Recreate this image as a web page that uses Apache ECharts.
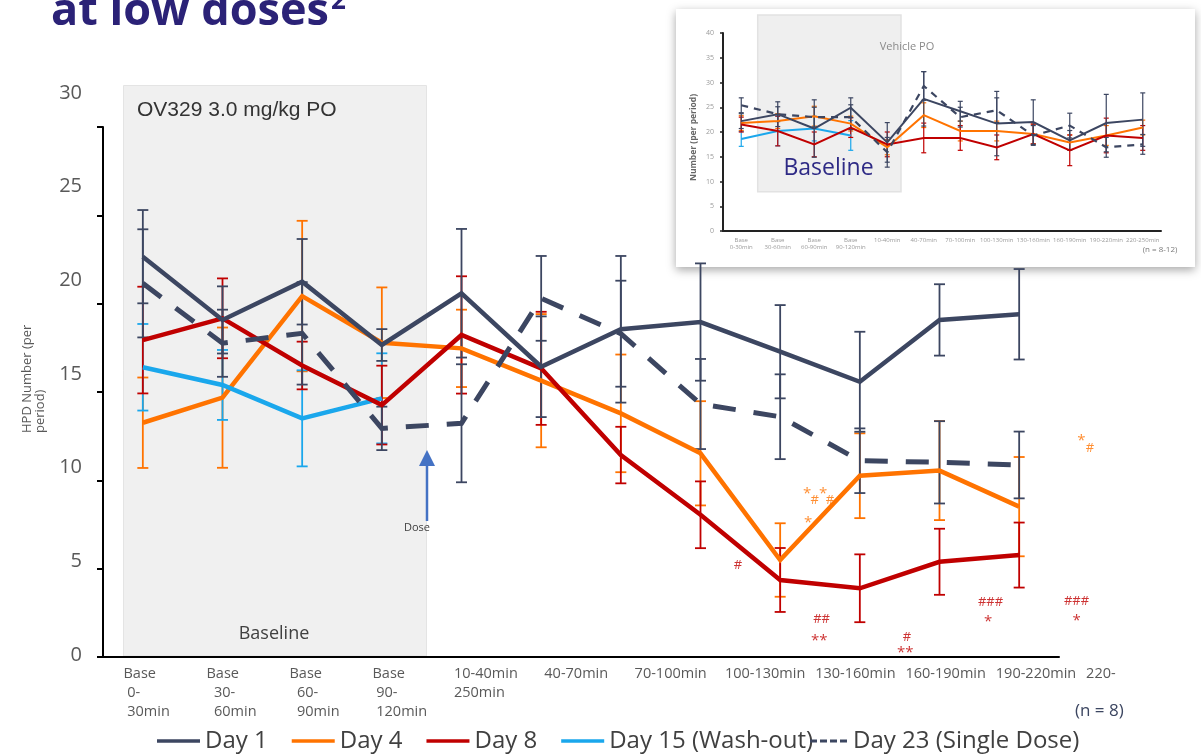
<!DOCTYPE html>
<html>
<head>
<meta charset="utf-8">
<script src="https://cdn.jsdelivr.net/npm/echarts@6/dist/echarts.min.js"></script>
<style>
  html, body { margin: 0; padding: 0; background: #fff; }
  #wrap { position: relative; width: 1201px; height: 755px; overflow: hidden; background: #fff; }
  #inset { position: absolute; left: 676px; top: 9px; width: 519px; height: 258px; background: #fff;
           box-shadow: 0 3px 9px rgba(0,0,0,0.35); z-index: 1; }
  #insetChart { width: 519px; height: 258px; filter: blur(0.7px); }
  #main { position: absolute; left: 0; top: 0; width: 1201px; height: 755px; z-index: 2; }
</style>
</head>
<body>
<div id="wrap">
  <div id="inset"><div id="insetChart"></div></div>
  <div id="main"></div>
</div>
<script>
// ---------- main chart data: OV329 3.0 mg/kg PO, HPD number per 30-min period (mean, SEM) ----------
const categories = ['Base 0-30min', 'Base 30-60min', 'Base 60-90min', 'Base 90-120min',
  '10-40min', '40-70min', '70-100min', '100-130min', '130-160min', '160-190min', '190-220min', '220-250min'];
const baseTickLabels = ['Base\n 0-\n 30min', 'Base\n  30-\n  60min', 'Base\n  60-\n  90min', 'Base\n 90-\n 120min'];
const timeTickLabels = ['10-40min\n250min', '40-70min', '70-100min', '100-130min', '130-160min', '160-190min', '190-220min', '220-'];
const yTicks = [0, 5, 10, 15, 20, 25, 30];

const day1     = [22.66, 19.08, 21.24, 17.66, 20.59, 16.43, 18.55, 18.96, 17.28, 15.58, 19.08, 19.40];
const day1Sem  = [2.64, 1.90, 2.42, 0.90, 3.64, 2.85, 4.15, 3.32, 2.64, 2.83, 2.02, 2.56];
const day4     = [13.26, 14.68, 20.43, 17.79, 17.47, 15.64, 13.79, 11.53, 5.49, 10.26, 10.55, 8.51];
const day4Sem  = [2.56, 3.97, 4.26, 3.13, 2.19, 3.77, 3.33, 2.95, 2.08, 2.40, 2.80, 2.81];
const day8     = [17.94, 19.17, 16.50, 14.26, 18.23, 16.34, 11.43, 8.05, 4.36, 3.89, 5.39, 5.77];
const day8Sem  = [3.02, 2.26, 1.35, 2.23, 3.32, 3.20, 1.60, 1.89, 1.81, 1.92, 1.87, 1.84];
const day15    = [16.40, 15.40, 13.51, 14.64, null, null, null, null, null, null, null, null];
const day15Sem = [2.45, 1.98, 2.72, 2.55, null, null, null, null, null, null, null, null];
const day23    = [21.15, 17.76, 18.32, 12.94, 13.23, 20.30, 18.30, 14.32, 13.60, 11.11, 11.02, 10.87];
const day23Sem = [3.06, 1.90, 2.90, 1.23, 3.34, 2.40, 3.00, 2.55, 2.40, 1.83, 2.33, 1.89];

// significance marks: [position along the category axis, value, mark, group]
const sigMarks = [
  [11.78, 12.45, '*', 'day4'],
  [11.89, 11.83, '#', 'day4'],
  [8.44, 9.49, '*  *', 'day4'],
  [8.53, 8.85, '#  #', 'day4'],
  [8.35, 7.85, '*', 'day4'],
  [7.47, 5.20, '#', 'day8'],
  [8.52, 2.15, '##', 'day8'],
  [8.49, 1.13, '**', 'day8'],
  [9.59, 1.13, '#', 'day8'],
  [9.57, 0.45, '**', 'day8'],
  [10.64, 3.11, '###', 'day8'],
  [10.61, 2.20, '*', 'day8'],
  [11.72, 3.17, '###', 'day8'],
  [11.72, 2.26, '*', 'day8']
];

// ---------- inset chart data: Vehicle PO ----------
const insetCategories = ['Base\n0-30min', 'Base\n30-60min', 'Base\n60-90min', 'Base\n90-120min',
  '10-40min', '40-70min', '70-100min', '100-130min', '130-160min', '160-190min', '190-220min', '220-250min'];
const insetTicks = [0, 5, 10, 15, 20, 25, 30, 35, 40];
const vDay1     = [22.2, 23.6, 20.7, 24.9, 17.9, 26.7, 24.2, 21.7, 22.0, 18.3, 21.8, 22.5];
const vDay1Sem  = [1.5, 2.5, 5.8, 2.0, 4.0, 5.5, 2.0, 6.5, 4.5, 2.0, 5.8, 5.4];
const vDay4     = [21.8, 22.2, 23.2, 21.7, 16.9, 23.4, 20.2, 20.2, 19.6, 17.9, 19.3, 20.9];
const vDay4Sem  = [1.5, 1.5, 2.0, 1.5, 1.5, 2.5, 2.0, 2.0, 2.0, 1.5, 2.0, 1.5];
const vDay8     = [21.5, 20.2, 17.5, 20.9, 17.5, 18.8, 18.8, 16.9, 19.6, 16.3, 19.3, 18.8];
const vDay8Sem  = [1.5, 3.0, 2.5, 2.0, 2.5, 3.0, 2.5, 2.5, 2.0, 3.1, 3.5, 2.5];
const vDay15    = [18.6, 20.2, 20.7, 19.3, null, null, null, null, null, null, null, null];
const vDay15Sem = [1.5, 3.0, 2.5, 3.0, null, null, null, null, null, null, null, null];
const vDay23    = [25.4, 23.6, 23.0, 23.0, 15.9, 29.3, 23.0, 24.4, 19.3, 21.3, 16.9, 17.5];
const vDay23Sem = [1.5, 1.5, 2.0, 2.5, 3.0, 2.9, 2.0, 2.5, 2.0, 2.5, 2.0, 2.0];

const FONT = "'Open Sans', 'Noto Sans', sans-serif";
const C = { day1: '#3c4661', day4: '#ff7300', day8: '#c00000', day15: '#1aa7ec', day23: '#3c4661' };

function errorBars(name, vals, sems, color, opts) {
  const data = [];
  vals.forEach((v, i) => { if (v != null && sems[i] != null) data.push([i, v - sems[i], v + sems[i]]); });
  return {
    type: 'custom', name, silent: true, z: opts.z || 1,
    xAxisIndex: opts.xAxisIndex || 0, yAxisIndex: opts.yAxisIndex || 0,
    encode: { x: 0, y: [1, 2] },
    data,
    renderItem(params, api) {
      const lo = api.coord([api.value(0), api.value(1)]);
      const hi = api.coord([api.value(0), api.value(2)]);
      const s = { stroke: color, lineWidth: opts.lw, fill: null };
      const h = opts.cap;
      return { type: 'group', children: [
        { type: 'line', shape: { x1: hi[0], y1: hi[1], x2: lo[0], y2: lo[1] }, style: s },
        { type: 'line', shape: { x1: hi[0] - h, y1: hi[1], x2: hi[0] + h, y2: hi[1] }, style: s },
        { type: 'line', shape: { x1: lo[0] - h, y1: lo[1], x2: lo[0] + h, y2: lo[1] }, style: s }
      ] };
    }
  };
}

function meanLine(name, vals, color, width, z, dash) {
  return {
    type: 'line', name, data: vals, z, symbol: 'none', showSymbol: false, connectNulls: false,
    lineStyle: { color, width, type: dash || 'solid', cap: 'butt', join: 'miter' },
    itemStyle: { color }
  };
}

// ---------- main chart ----------
const main = echarts.init(document.getElementById('main'), null, { renderer: 'canvas' });
const yMin = yTicks[0], yMax = yTicks[yTicks.length - 1], yStep = yTicks[1] - yTicks[0];
const catLabelStyle = { interval: 0, align: 'left', margin: 7, fontSize: 14.5, lineHeight: 19, color: '#595959', fontFamily: FONT };
const legendText = { fontSize: 24, color: '#404040', fontFamily: FONT };

const txt = (x, y, text, font, fill, align, valign, extra) => Object.assign({
  type: 'text', x, y,
  style: { x: 0, y: 0, text, font, fill, align, verticalAlign: valign, textAlign: align, textVerticalAlign: valign }
}, extra || {});

main.setOption({
  animation: false,
  backgroundColor: 'transparent',
  textStyle: { fontFamily: FONT },
  grid: [
    { left: 103, right: 142, top: 127, bottom: 98, outerBoundsMode: 'none' },
    { left: 103, width: 50, top: 93, bottom: 100, outerBoundsMode: 'none' },
    { left: 82, width: 332, top: 600, bottom: 98, outerBoundsMode: 'none' },
    { left: 408.85, width: 722.4, top: 600, bottom: 98, outerBoundsMode: 'none' }
  ],
  xAxis: [
    { type: 'category', gridIndex: 0, data: categories, z: 5,
      axisLine: { show: true, onZero: false, lineStyle: { color: '#000', width: 2 } },
      axisTick: { show: false }, axisLabel: { show: false }, splitLine: { show: false } },
    { type: 'value', gridIndex: 0, min: -0.5, max: categories.length - 0.5, show: false,
      axisLine: { onZero: false } },
    { type: 'value', gridIndex: 1, show: false, axisLine: { onZero: false } },
    { type: 'category', gridIndex: 2, data: baseTickLabels, axisLine: { show: false, onZero: false }, axisTick: { show: false },
      splitLine: { show: false }, axisLabel: catLabelStyle },
    { type: 'category', gridIndex: 3, data: timeTickLabels, axisLine: { show: false, onZero: false }, axisTick: { show: false },
      splitLine: { show: false }, axisLabel: catLabelStyle }
  ],
  yAxis: [
    { type: 'value', gridIndex: 0, min: yMin, max: yMax, interval: yStep, z: 5,
      axisLine: { show: true, onZero: false, lineStyle: { color: '#000', width: 2 } },
      axisTick: { show: true, inside: false, length: 6, lineStyle: { color: '#000', width: 2 } },
      axisLabel: { show: false }, splitLine: { show: false } },
    { type: 'value', gridIndex: 1, min: yMin, max: yMax, interval: yStep,
      axisLine: { show: false, onZero: false }, axisTick: { show: false }, splitLine: { show: false },
      axisLabel: { fontSize: 20, color: '#595959', margin: 21, fontFamily: FONT } },
    { type: 'value', gridIndex: 2, show: false, axisLine: { onZero: false } },
    { type: 'value', gridIndex: 3, show: false, axisLine: { onZero: false } }
  ],
  legend: [
    { data: ['Day 1', 'Day 4', 'Day 8', 'Day 15 (Wash-out)'], left: 157, top: 729, orient: 'horizontal', padding: 0,
      icon: 'rect', itemWidth: 43, itemHeight: 3.5, itemGap: 24,
      textStyle: legendText },
    { data: ['Day 23 (Single Dose)'], left: 810, top: 729, padding: 0,
      icon: 'path://M0,0h7v3h-7z M10,0h7v3h-7z M20,0h7v3h-7z M30,0h7v3h-7z',
      itemWidth: 39, itemHeight: 3, itemGap: 0,
      textStyle: legendText }
  ],
  graphic: [
    { type: 'rect', z: -1, shape: { x: 123.5, y: 85.5, width: 303, height: 570.5 },
      style: { fill: '#f0f0f0', stroke: '#e4e4e4', lineWidth: 1 } },
    txt(137, 110, 'OV329 3.0 mg/kg PO', "21px 'Liberation Sans', Arial, sans-serif", '#333333', 'left', 'middle'),
    txt(274, 634, 'Baseline', "18px " + FONT, '#404040', 'center', 'middle'),
    { type: 'line', shape: { x1: 427, y1: 521, x2: 427, y2: 462 }, style: { stroke: '#4472c4', lineWidth: 2.5 } },
    { type: 'polygon', shape: { points: [[419, 466], [435, 466], [427, 450]] }, style: { fill: '#4472c4' } },
    txt(417, 528, 'Dose', "11px " + FONT, '#404040', 'center', 'middle'),
    txt(21, 433, 'HPD Number (per\nperiod)', "13px " + FONT, '#595959', 'left', 'top', { rotation: Math.PI / 2 }),
    txt(1075, 711, '(n = 8)', "17px " + FONT, '#3c4661', 'left', 'middle'),
    txt(51, 12, 'at low doses', "bold 45px " + FONT, '#2b2277', 'left', 'middle'),
    txt(331, 2, '2', "bold 26px " + FONT, '#2b2277', 'left', 'middle'),
    txt(828.5, 168, 'Baseline', "23px " + FONT, '#2e2a85', 'center', 'middle')
  ],
  series: [
    errorBars('Day 4 SEM', day4, day4Sem, C.day4, { lw: 1.8, cap: 5.5, z: 1 }),
    errorBars('Day 15 SEM', day15, day15Sem, C.day15, { lw: 1.8, cap: 5.5, z: 1 }),
    errorBars('Day 8 SEM', day8, day8Sem, C.day8, { lw: 1.8, cap: 5.5, z: 1 }),
    errorBars('Day 23 SEM', day23, day23Sem, C.day23, { lw: 1.8, cap: 5.5, z: 1 }),
    errorBars('Day 1 SEM', day1, day1Sem, C.day1, { lw: 1.8, cap: 5.5, z: 1 }),
    meanLine('Day 4', day4, C.day4, 4.5, 3),
    meanLine('Day 15 (Wash-out)', day15, C.day15, 4.5, 3),
    meanLine('Day 8', day8, C.day8, 4.5, 4),
    meanLine('Day 23 (Single Dose)', day23, C.day23, 5, 5, [23, 18]),
    meanLine('Day 1', day1, C.day1, 4.5, 6),
    {
      type: 'scatter', name: 'significance', xAxisIndex: 1, yAxisIndex: 0, z: 7, clip: false, silent: true,
      symbolSize: 0, itemStyle: { color: 'rgba(0,0,0,0)' },
      data: sigMarks.map(m => ({
        value: [m[0], m[1]],
        label: {
          show: true, position: 'inside', formatter: m[2],
          color: C[m[3]], fontFamily: FONT,
          fontSize: m[2].indexOf('*') >= 0 ? 15 : 13,
          offset: m[2].indexOf('*') >= 0 ? [0, 4] : [0, 0]
        }
      }))
    }
  ]
});

// ---------- inset chart (Vehicle PO) ----------
const inset = echarts.init(document.getElementById('insetChart'), null, { renderer: 'canvas' });
inset.setOption({
  animation: false,
  backgroundColor: 'transparent',
  textStyle: { fontFamily: FONT },
  grid: { left: 47, top: 24, right: 34, bottom: 36, outerBoundsMode: 'none' },
  xAxis: { type: 'category', data: insetCategories,
    axisLine: { show: true, onZero: false, lineStyle: { color: '#222', width: 2 } }, axisTick: { show: false },
    axisLabel: { interval: 0, fontSize: 6, lineHeight: 7, color: '#9a9a9a', margin: 6 }, splitLine: { show: false } },
  yAxis: { type: 'value', min: insetTicks[0], max: insetTicks[insetTicks.length - 1], interval: insetTicks[1] - insetTicks[0],
    axisLine: { show: true, onZero: false, lineStyle: { color: '#222', width: 2 } },
    axisTick: { show: true, length: 3, lineStyle: { color: '#222', width: 1.5 } },
    axisLabel: { fontSize: 7, color: '#9a9a9a', margin: 9 }, splitLine: { show: false } },
  graphic: [
    { type: 'rect', z: -1, shape: { x: 81.7, y: 6, width: 143.3, height: 176.7 },
      style: { fill: '#efefef', stroke: '#e2e2e2', lineWidth: 1.5 } },
    txt(231, 38, 'Vehicle PO', "11px " + FONT, '#8a8a8a', 'center', 'middle'),
    txt(13, 172, 'Number (per period)', "bold 8.5px " + FONT, '#666666', 'left', 'top', { rotation: Math.PI / 2 }),
    txt(484, 241, '(n = 8-12)', "8px " + FONT, '#7a7a7a', 'center', 'middle')
  ],
  series: [
    errorBars('Day 4 SEM', vDay4, vDay4Sem, C.day4, { lw: 1.2, cap: 2.5, z: 1 }),
    errorBars('Day 15 SEM', vDay15, vDay15Sem, C.day15, { lw: 1.2, cap: 2.5, z: 1 }),
    errorBars('Day 8 SEM', vDay8, vDay8Sem, C.day8, { lw: 1.2, cap: 2.5, z: 1 }),
    errorBars('Day 23 SEM', vDay23, vDay23Sem, C.day23, { lw: 1.2, cap: 2.5, z: 1 }),
    errorBars('Day 1 SEM', vDay1, vDay1Sem, C.day1, { lw: 1.2, cap: 2.5, z: 1 }),
    meanLine('Day 4', vDay4, C.day4, 2, 3),
    meanLine('Day 15 (Wash-out)', vDay15, C.day15, 2, 3),
    meanLine('Day 8', vDay8, C.day8, 2, 4),
    meanLine('Day 23 (Single Dose)', vDay23, C.day23, 2.2, 5, [7, 6]),
    meanLine('Day 1', vDay1, C.day1, 2, 6)
  ]
});
</script>
</body>
</html>
